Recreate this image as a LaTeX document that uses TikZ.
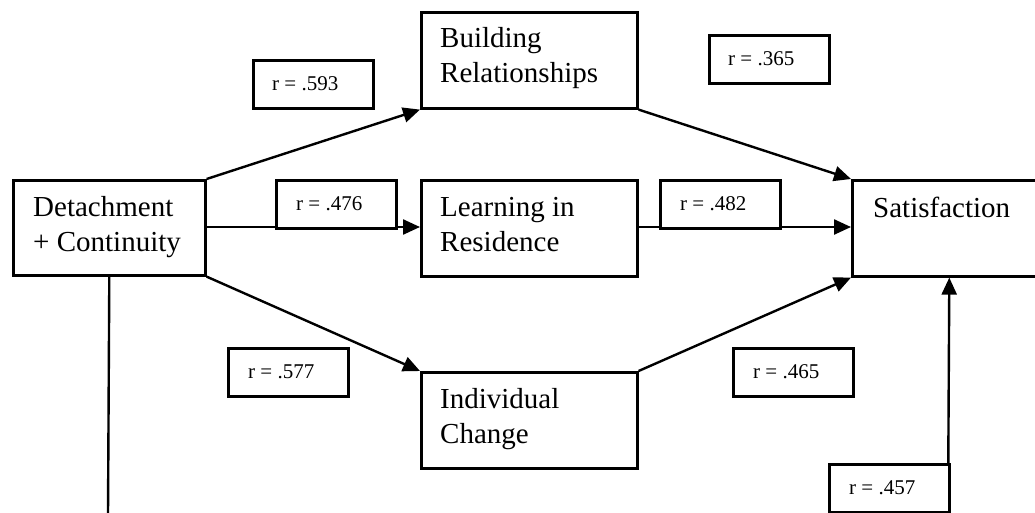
\documentclass[tikz,border=0pt]{standalone}
\usepackage{fontspec}
\setmainfont{Liberation Serif}
\usetikzlibrary{arrows.meta}
\begin{document}
\begin{tikzpicture}[x=1pt,y=-1pt,
  box/.style={draw,line width=2.6pt,minimum width=216pt,minimum height=96pt,anchor=north west,inner sep=0pt},
  lbl/.style={draw,fill=white,line width=2.6pt,minimum width=120pt,minimum height=48pt,anchor=north west,inner sep=0pt},
  maintxt/.style={font=\fontsize{29}{35}\selectfont,inner sep=0pt,anchor=base west},
  lbltxt/.style={font=\fontsize{21}{25}\selectfont,inner sep=0pt,anchor=base west},
  conn/.style={line width=2.4pt},
  arr/.style={conn,-{Triangle[length=17pt,width=15pt]}}]
\useasboundingbox (0,0) rectangle (1035,512);
\fill[white] (0,0) rectangle (1035,512);
% main boxes
\node[box,minimum width=192pt,minimum height=95pt] (det) at (12,179) {};
\node[box] (br) at (420,11) {};
\node[box] (lr) at (420,179) {};
\node[box] (ic) at (420,371) {};
\node[box,minimum width=194pt] (sat) at (851,179) {};
% texts
\node[maintxt] (detT) at ([shift={(21,37)}]det.north west) {\parbox[t]{180pt}{Detachment\\+ Continuity}};
\node[maintxt] (brT) at ([shift={(20,36)}]br.north west) {\parbox[t]{200pt}{Building\\Relationships}};
\node[maintxt] (lrT) at ([shift={(20,37)}]lr.north west) {\parbox[t]{200pt}{Learning in\\Residence}};
\node[maintxt] (icT) at ([shift={(20,37)}]ic.north west) {\parbox[t]{200pt}{Individual\\Change}};
\node[maintxt] (satT) at ([shift={(22,38)}]sat.north west) {Satisfaction};
% connectors
\coordinate (b1) at (108,515);
\coordinate (b2) at (948,515);
\draw[arr] (det.north east) -- (br.south west);
\draw[arr] (det.east |- 0,227) -- (lr.west |- 0,227);
\draw[arr] (det.south east) -- (ic.north west);
\draw[arr] (br.south east) -- (sat.north west);
\draw[arr] (lr.east |- 0,227) -- (sat.west |- 0,227);
\draw[arr] (ic.north east) -- (sat.south west);
\draw[conn] (det.south) -- (b1);
\draw[arr] (b2) -- (sat.south);
% labels
\node[lbl] (l1) at (252,59) {};
\node[lbl] (l2) at (708,34) {};
\node[lbl] (l3) at (275,179) {};
\node[lbl] (l4) at (659,179) {};
\node[lbl] (l5) at (227,347) {};
\node[lbl] (l6) at (732,347) {};
\node[lbl] (l7) at (828,463) {};
\node[lbltxt] (l1T) at ([shift={(20,31)}]l1.north west) {r = .593};
\node[lbltxt] (l2T) at ([shift={(20,31)}]l2.north west) {r = .365};
\node[lbltxt] (l3T) at ([shift={(21,31)}]l3.north west) {r = .476};
\node[lbltxt] (l4T) at ([shift={(21,31)}]l4.north west) {r = .482};
\node[lbltxt] (l5T) at ([shift={(21,31)}]l5.north west) {r = .577};
\node[lbltxt] (l6T) at ([shift={(21,31)}]l6.north west) {r = .465};
\node[lbltxt] (l7T) at ([shift={(21,31)}]l7.north west) {r = .457};
\end{tikzpicture}
\end{document}
